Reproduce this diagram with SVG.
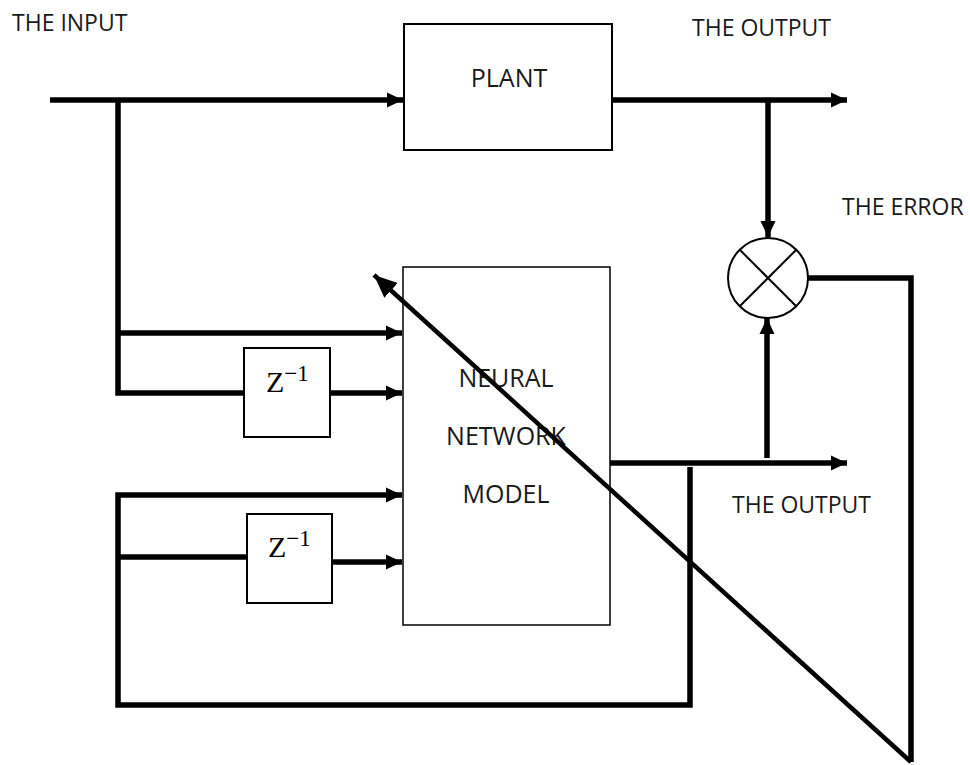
<svg xmlns="http://www.w3.org/2000/svg" width="970" height="765" viewBox="0 0 970 765">
<style>
.box{fill:#fff;stroke:#000;stroke-width:2}
.thin{fill:#fff;stroke:#000;stroke-width:1.5}
.wire{fill:none;stroke:#000;stroke-width:5.5;stroke-linejoin:miter;stroke-linecap:butt}
.lbl{font-family:"Open Sans","Liberation Sans",sans-serif;font-size:23px;fill:#1a1a1a}
.node{font-size:25px}
.math{font-family:"Liberation Serif","DejaVu Serif",serif;font-size:30px;fill:#000}
.sup{font-size:23px}
</style>
<defs>
<marker id="ah" markerUnits="userSpaceOnUse" markerWidth="17" markerHeight="17" viewBox="0 0 17 17" refX="16" refY="8.5" orient="auto">
<path d="M0,1 L16,8.5 L0,16 Z" fill="#000"/>
</marker>
<marker id="ah2" markerUnits="userSpaceOnUse" markerWidth="24" markerHeight="22" viewBox="0 0 24 22" refX="23" refY="11" orient="auto">
<path d="M0,1 L23,11 L0,21 Z" fill="#000"/>
</marker>
</defs>

<g id="labels">
<text class="lbl" x="12" y="31">THE INPUT</text>
<text class="lbl" x="692" y="36">THE OUTPUT</text>
<text class="lbl" x="842" y="215">THE ERROR</text>
<text class="lbl" x="732" y="513">THE OUTPUT</text>
</g>

<g id="plant">
<rect class="box" x="404" y="24" width="208" height="126"/>
<text class="lbl node" x="509" y="87" text-anchor="middle">PLANT</text>
</g>

<g id="nn-model">
<rect class="thin" x="403" y="267" width="207" height="358"/>
<text class="lbl node" x="506" y="387" text-anchor="middle">NEURAL</text>
<text class="lbl node" x="506" y="445" text-anchor="middle">NETWORK</text>
<text class="lbl node" x="506" y="503" text-anchor="middle">MODEL</text>
</g>

<g id="delay1">
<rect class="box" x="244" y="348" width="86" height="89"/>
<text class="math" x="266" y="392">Z<tspan class="sup" dy="-11">−1</tspan></text>
</g>

<g id="delay2">
<rect class="box" x="247" y="514" width="85" height="89"/>
<text class="math" x="268" y="557">Z<tspan class="sup" dy="-11">−1</tspan></text>
</g>

<g id="summer">
<circle cx="768" cy="278" r="40" fill="#fff" stroke="#000" stroke-width="2"/>
<line x1="740" y1="250" x2="796" y2="306" stroke="#000" stroke-width="2"/>
<line x1="796" y1="250" x2="740" y2="306" stroke="#000" stroke-width="2"/>
</g>

<g id="connectors">
<polyline class="wire" points="50,100 403,100" marker-end="url(#ah)"/>
<polyline class="wire" points="118,100 118,393 244,393"/>
<polyline class="wire" points="118,333 402,333" marker-end="url(#ah)"/>
<polyline class="wire" points="330,393 402,393" marker-end="url(#ah)"/>
<polyline class="wire" points="612,100 847,100" marker-end="url(#ah)"/>
<polyline class="wire" points="768,100 768,237" marker-end="url(#ah)"/>
<polyline class="wire" points="610,463 847,463" marker-end="url(#ah)"/>
<polyline class="wire" points="767,458 767,318" marker-end="url(#ah)"/>
<polyline class="wire" points="690,467 690,705 118,705 118,495 402,495" marker-end="url(#ah)"/>
<polyline class="wire" points="118,557 247,557"/>
<polyline class="wire" points="332,562 402,562" marker-end="url(#ah)"/>
<polyline class="wire" points="808,278 911,278 911,762"/>
<line x1="911" y1="762" x2="374" y2="275" stroke="#000" stroke-width="4.5" marker-end="url(#ah2)"/>
</g>
</svg>
